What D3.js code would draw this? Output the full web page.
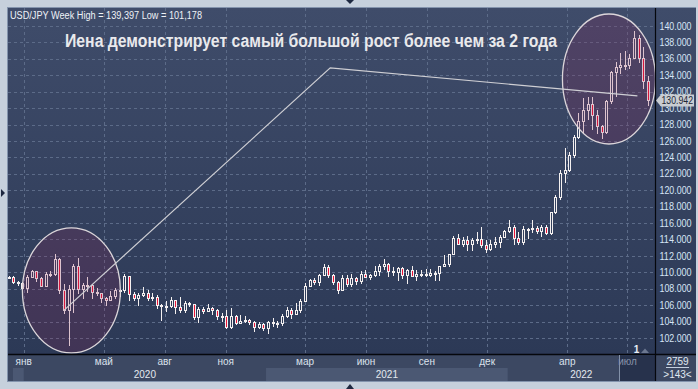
<!DOCTYPE html>
<html>
<head>
<meta charset="utf-8">
<script src="https://cdn.jsdelivr.net/npm/d3@7"></script>
<style>
  body { margin: 0; background: #c6d0dc; }
  svg { display: block; font-family: "Liberation Sans", Arial, sans-serif; }
</style>
</head>
<body>
<div id="chart"></div>
<script>
// weekly candles, USD/JPY, week of 9 Dec 2019 to week of 1 Aug 2022
const firstWeek = new Date(2019, 11, 9);
const lastWeek = new Date(2022, 7, 1);
const weeks = d3.timeMonday.range(firstWeek, d3.timeDay.offset(lastWeek, 1));

const opens = [
  109.35,109.42,108.85,108.70,108.05,109.45,110.14,109.28,108.35,109.75,109.77,111.60,107.89,105.39,107.99,110.83,107.95,108.48,108.46,107.55,
  107.52,106.91,106.67,107.15,107.79,107.82,109.60,107.39,106.86,107.20,107.51,106.92,106.98,106.01,105.88,105.92,106.60,105.79,105.37,106.24,
  106.16,104.55,105.58,105.30,105.61,105.39,104.71,104.65,103.35,104.63,103.86,104.09,104.17,103.97,103.35,103.65,103.25,103.94,103.86,103.78,
  104.68,105.40,104.95,105.41,106.55,108.38,109.03,108.88,109.68,110.68,109.66,108.78,107.88,109.31,108.58,109.35,108.96,109.83,109.49,109.67,
  110.22,110.77,111.05,110.14,110.06,110.55,109.72,110.25,109.59,109.78,109.85,109.71,109.93,109.96,110.73,111.05,112.24,114.21,113.47,113.95,
  113.40,113.88,114.00,113.38,112.80,113.39,113.71,114.36,115.08,115.56,114.19,113.68,115.26,115.22,115.44,115.02,115.55,114.78,117.31,119.17,
  122.07,122.52,124.30,126.44,128.48,129.83,130.55,129.22,127.87,127.10,130.87,134.42,135.00,135.21,135.22,136.10,138.55,136.12,133.28
];
const highs = [
  109.55,109.55,108.90,108.85,109.69,110.29,110.20,109.40,110.02,110.14,112.23,111.71,108.55,108.51,111.07,111.72,108.70,109.38,108.55,108.05,
  107.53,107.02,107.77,108.08,107.96,109.85,109.61,107.64,107.44,108.16,107.79,107.43,107.29,106.10,106.48,107.05,106.66,106.95,106.55,106.38,
  106.16,105.80,105.80,106.11,105.75,105.52,105.06,105.35,105.68,104.75,104.75,104.74,104.28,104.05,103.89,103.83,104.09,104.40,104.08,104.94,
  105.77,105.64,106.22,106.69,108.64,109.24,109.36,109.85,110.97,110.86,109.77,108.96,109.70,109.70,109.78,109.45,110.20,110.32,109.83,110.82,
  110.97,111.66,111.10,110.70,110.59,110.59,110.37,110.80,110.25,110.25,110.42,110.45,110.16,110.79,112.07,112.25,114.47,114.70,114.32,114.44,
  114.21,114.97,115.52,113.95,113.95,114.26,114.58,115.20,116.35,115.75,114.88,115.68,115.39,116.34,115.68,115.76,115.75,117.35,119.40,122.44,
  125.10,124.70,126.68,129.40,131.25,131.34,131.35,129.78,128.00,130.99,134.55,135.60,136.71,137.00,136.57,139.39,138.88,137.45,133.90
];
const lows = [
  109.25,108.75,108.50,107.90,107.65,109.42,108.95,108.31,108.31,109.56,109.73,107.51,105.00,101.18,105.15,107.43,106.92,107.76,106.92,107.24,
  106.35,106.00,106.67,106.85,107.10,107.58,106.58,106.65,106.07,107.13,106.64,106.62,105.67,104.19,105.30,105.81,105.10,105.20,105.11,105.85,
  104.28,104.00,105.06,105.30,104.95,104.34,104.03,103.18,103.19,103.65,103.85,103.91,103.74,102.88,103.16,102.96,102.59,103.52,103.33,103.58,
  104.60,104.41,104.93,105.18,106.45,108.35,108.61,108.40,109.68,109.37,108.61,107.48,107.80,108.33,108.34,108.57,108.70,109.39,109.18,109.61,
  109.71,110.43,109.53,109.72,109.07,109.36,108.72,109.53,109.12,109.59,109.59,109.60,109.11,109.11,110.72,110.82,112.20,113.41,113.25,112.73,
  112.72,113.58,113.05,112.53,112.75,113.14,113.12,114.34,114.93,113.48,113.46,113.47,114.15,114.89,114.74,114.40,114.65,114.65,117.24,118.96,
  120.98,122.40,124.07,126.38,126.95,128.63,127.52,126.95,126.36,127.00,130.58,131.49,134.27,134.74,134.95,136.06,135.57,132.50,130.39
];
const closes = [
  109.42,108.85,108.70,108.05,109.45,110.14,109.28,108.35,109.75,109.77,111.60,107.89,105.39,107.99,110.83,107.95,108.48,108.46,107.55,107.52,
  106.91,106.67,107.15,107.79,107.82,109.60,107.39,106.86,107.20,107.51,106.92,106.98,106.01,105.88,105.92,106.60,105.79,105.37,106.24,106.16,
  104.55,105.58,105.30,105.61,105.39,104.71,104.65,103.35,104.63,103.86,104.09,104.17,103.97,103.35,103.65,103.25,103.94,103.86,103.78,104.68,
  105.40,104.95,105.41,106.55,108.38,109.03,108.88,109.68,110.68,109.66,108.78,107.88,109.31,108.58,109.35,108.96,109.83,109.49,109.67,110.22,
  110.77,111.05,110.14,110.06,110.55,109.72,110.25,109.59,109.78,109.85,109.71,109.93,109.96,110.73,111.05,112.24,114.21,113.47,113.95,113.40,
  113.88,114.00,113.38,112.80,113.39,113.71,114.36,115.08,115.56,114.19,113.68,115.26,115.22,115.44,115.02,115.55,114.78,117.31,119.17,122.07,
  122.52,124.30,126.44,128.48,129.83,130.55,129.22,127.87,127.10,130.87,134.42,135.00,135.21,135.22,136.10,138.55,136.12,133.28,130.94
];

const priceTicks = [102,104,106,108,110,112,114,116,118,120,122,124,126,128,130,132,134,136,138,140];
const monthDates = [new Date(2020,0,1), new Date(2020,4,1), new Date(2020,7,1), new Date(2020,10,1),
                    new Date(2021,2,1), new Date(2021,5,1), new Date(2021,8,1), new Date(2021,11,1),
                    new Date(2022,3,1), new Date(2022,6,1)];
const monthLabels = ["янв","май","авг","ноя","мар","июн","сен","дек","апр","июл"];
const yearStarts = [new Date(2020,0,1), new Date(2021,0,1), new Date(2022,0,1)];
const yearLabels = ["2020","2021","2022"];

// annotation: trend line and highlight ellipses
const lineDates = [new Date(2020,2,2), new Date(2021,3,8), new Date(2022,6,16)];
const lineValues = [105.4, 134.9, 131.5];
const ellipseDates = [new Date(2020,2,13), new Date(2022,5,3)];
const ellipseValues = [107.8, 133.55];

const lastPrice = 130.942;

const W = 698, H = 389;
const plot = {left: 8, top: 8, right: 655, bottom: 354};
const panelRight = 696, axisBottom = 381;

const svg = d3.select("#chart").append("svg").attr("width", W).attr("height", H);
const defs = svg.append("defs");

const grad = defs.append("linearGradient").attr("id", "bg")
  .attr("gradientUnits", "userSpaceOnUse")
  .attr("x1", 0).attr("y1", plot.top).attr("x2", 0).attr("y2", plot.bottom);
grad.append("stop").attr("offset", 0).attr("stop-color", "#3f4c6a");
grad.append("stop").attr("offset", 1).attr("stop-color", "#2c3956");

defs.append("clipPath").attr("id", "plotClip").append("rect")
  .attr("x", plot.left).attr("y", plot.top)
  .attr("width", plot.right - plot.left).attr("height", plot.bottom - plot.top);

// frame
svg.append("rect").attr("width", W).attr("height", H).attr("fill", "#c6d0dc");
svg.append("rect").attr("x", plot.left - 1).attr("y", plot.top - 1)
  .attr("width", panelRight - plot.left + 1).attr("height", axisBottom - plot.top + 2)
  .attr("fill", "#8494ad");
svg.append("rect").attr("x", plot.left).attr("y", plot.top)
  .attr("width", panelRight - plot.left).attr("height", plot.bottom - plot.top)
  .attr("fill", "url(#bg)");
svg.append("rect").attr("x", plot.left).attr("y", plot.bottom)
  .attr("width", panelRight - plot.left).attr("height", axisBottom - plot.bottom)
  .attr("fill", "#3c4862");

// small chrome triangles
svg.append("path").attr("d", "M346,0 L354,0 L350,4 Z").attr("fill", "#1d2840");
svg.append("path").attr("d", "M346,389 L354,389 L350,384 Z").attr("fill", "#1d2840");
svg.append("path").attr("d", "M1,189 L1,197 L5,193 Z").attr("fill", "#1d2840");

const x = d3.scaleTime().domain([weeks[0], weeks[weeks.length - 1]]).range([8.5, 648]);
const y = d3.scaleLinear().domain([100.05, 142.2]).range([plot.bottom, plot.top]);

// grid
const grid = svg.append("g").attr("clip-path", "url(#plotClip)")
  .attr("stroke", "#5c6b88").attr("stroke-dasharray", "3,3").attr("stroke-width", 1);
grid.selectAll("line.h").data(priceTicks).join("line").attr("class", "h")
  .attr("x1", plot.left).attr("x2", plot.right)
  .attr("y1", d => Math.round(y(d)) + 0.5).attr("y2", d => Math.round(y(d)) + 0.5);
grid.selectAll("line.v").data(monthDates).join("line").attr("class", "v")
  .attr("y1", plot.top).attr("y2", plot.bottom)
  .attr("x1", d => Math.round(x(d)) + 0.5).attr("x2", d => Math.round(x(d)) + 0.5);

// candles
const candles = weeks.map((d, i) => ({date: d, open: opens[i], high: highs[i], low: lows[i], close: closes[i]}));
const cx = d => Math.round(x(d.date));
const cg = svg.append("g").attr("clip-path", "url(#plotClip)");
cg.selectAll("line.wick").data(candles).join("line").attr("class", "wick")
  .attr("x1", d => cx(d) + 0.5).attr("x2", d => cx(d) + 0.5)
  .attr("y1", d => Math.round(y(d.high))).attr("y2", d => Math.round(y(d.low)) + 1)
  .attr("stroke", "#f4f0f0").attr("stroke-width", 1);
cg.selectAll("rect.body").data(candles).join("rect").attr("class", "body")
  .attr("x", d => cx(d) - 0.5).attr("width", 2)
  .attr("y", d => Math.round(y(Math.max(d.open, d.close))) + 0.5)
  .attr("height", d => Math.max(1, Math.round(y(Math.min(d.open, d.close))) - Math.round(y(Math.max(d.open, d.close)))))
  .attr("fill", d => d.close >= d.open ? "url(#bg)" : "#ea1538")
  .attr("stroke", "#f4f0f0").attr("stroke-width", 1);

// highlight ellipses
const ann = svg.append("g").attr("clip-path", "url(#plotClip)");
const radii = [[49, 62.5], [46.5, 65]];
ann.selectAll("ellipse").data(ellipseDates).join("ellipse")
  .attr("cx", d => x(d)).attr("cy", (d, i) => y(ellipseValues[i]))
  .attr("rx", (d, i) => radii[i][0]).attr("ry", (d, i) => radii[i][1])
  .attr("fill", "rgba(140,35,85,0.22)")
  .attr("stroke", "#dcd6da").attr("stroke-width", 1.3);

const trend = d3.line().x(d => x(d[0])).y(d => y(d[1]));
ann.append("path").datum(lineDates.map((d, i) => [d, lineValues[i]]))
  .attr("d", trend).attr("fill", "none")
  .attr("stroke", "#cfcfd4").attr("stroke-width", 1.2);

// separators
svg.append("line").attr("x1", plot.left).attr("x2", panelRight)
  .attr("y1", plot.bottom + 0.5).attr("y2", plot.bottom + 0.5).attr("stroke", "#05070c").attr("stroke-width", 1.4);

// bottom axis: year bands
const yearEdges = [x(weeks[0]) + 4.5, ...yearStarts.map(d => x(d)), plot.right];
const bandShade = ["#4b5873", null, "#4b5873", null];
const yearRowTop = 368;
yearEdges.slice(0, -1).forEach((x0, i) => {
  if (bandShade[i]) {
    svg.append("rect").attr("x", x0).attr("y", yearRowTop)
      .attr("width", yearEdges[i + 1] - x0).attr("height", axisBottom - yearRowTop)
      .attr("fill", bandShade[i]);
  }
});
svg.selectAll("text.year").data(yearLabels).join("text").attr("class", "year")
  .attr("x", (d, i) => (yearEdges[i + 1] + yearEdges[i + 2]) / 2).attr("y", 378)
  .attr("text-anchor", "middle").attr("font-size", 10).attr("fill", "#e4e9f0")
  .text(d => d);

// scroll thumb box at the right end
svg.append("rect").attr("x", 620).attr("y", plot.bottom + 1)
  .attr("width", plot.right - 620).attr("height", axisBottom - plot.bottom - 1)
  .attr("fill", "#27324c");
svg.append("line").attr("x1", 619.5).attr("x2", 619.5).attr("y1", plot.bottom + 1).attr("y2", axisBottom)
  .attr("stroke", "#8391a8");

svg.selectAll("text.month").data(monthDates).join("text").attr("class", "month")
  .attr("x", d => x(d)).attr("y", 365)
  .attr("text-anchor", "middle").attr("font-size", 10)
  .attr("fill", (d, i) => i === monthDates.length - 1 ? "#8793aa" : "#dbe2ec")
  .text((d, i) => monthLabels[i]);

svg.append("line").attr("x1", plot.right + 0.5).attr("x2", plot.right + 0.5)
  .attr("y1", plot.top).attr("y2", axisBottom).attr("stroke", "#05070c").attr("stroke-width", 1.2);

// right axis labels
const fmt = d3.format(",.3f");
svg.selectAll("text.price").data(priceTicks).join("text").attr("class", "price")
  .attr("x", 659.5).attr("y", d => y(d) + 3.6)
  .attr("font-size", 10).attr("fill", "#d6e5f6")
  .attr("textLength", 32).attr("lengthAdjust", "spacingAndGlyphs")
  .text(d => fmt(d));

// last price marker
const yl = y(lastPrice);
svg.append("path")
  .attr("d", `M656,${yl} L661,${yl - 6} L694,${yl - 6} L694,${yl + 6} L661,${yl + 6} Z`)
  .attr("fill", "#c9cdd2");
svg.append("text").attr("x", 661.5).attr("y", yl + 3.6)
  .attr("font-size", 10).attr("fill", "#1e2736")
  .attr("textLength", 31.5).attr("lengthAdjust", "spacingAndGlyphs")
  .text(fmt(lastPrice));

// bottom right counters
svg.append("text").attr("x", 677.5).attr("y", 365).attr("text-anchor", "middle")
  .attr("font-size", 10).attr("fill", "#e0e8f2").text("2759");
svg.append("line").attr("x1", 666).attr("x2", 689).attr("y1", 367.5).attr("y2", 367.5)
  .attr("stroke", "#c4d0e0");
svg.append("text").attr("x", 677.5).attr("y", 377.5).attr("text-anchor", "middle")
  .attr("font-size", 10).attr("fill", "#e0e8f2").text(">143<");

// bar counter marker
svg.append("text").attr("x", 636.5).attr("y", 353).attr("text-anchor", "middle")
  .attr("font-size", 10).attr("font-weight", "bold").attr("fill", "#e8eef6").text("1");
svg.append("path").attr("d", "M641,353 L649,353 L645,348.5 Z").attr("fill", "#6b7790");

// header and title
svg.append("text").attr("x", 10).attr("y", 18.5)
  .attr("font-size", 10).attr("fill", "#eef2f7")
  .attr("textLength", 192).attr("lengthAdjust", "spacingAndGlyphs")
  .text("USD/JPY Week High = 139,397 Low = 101,178");
svg.append("text").attr("x", 65).attr("y", 46.5)
  .attr("font-size", 17.5).attr("font-weight", "bold").attr("fill", "#e9e9ec")
  .attr("textLength", 492).attr("lengthAdjust", "spacingAndGlyphs")
  .text("Иена демонстрирует самый большой рост более чем за 2 года");
</script>
</body>
</html>
